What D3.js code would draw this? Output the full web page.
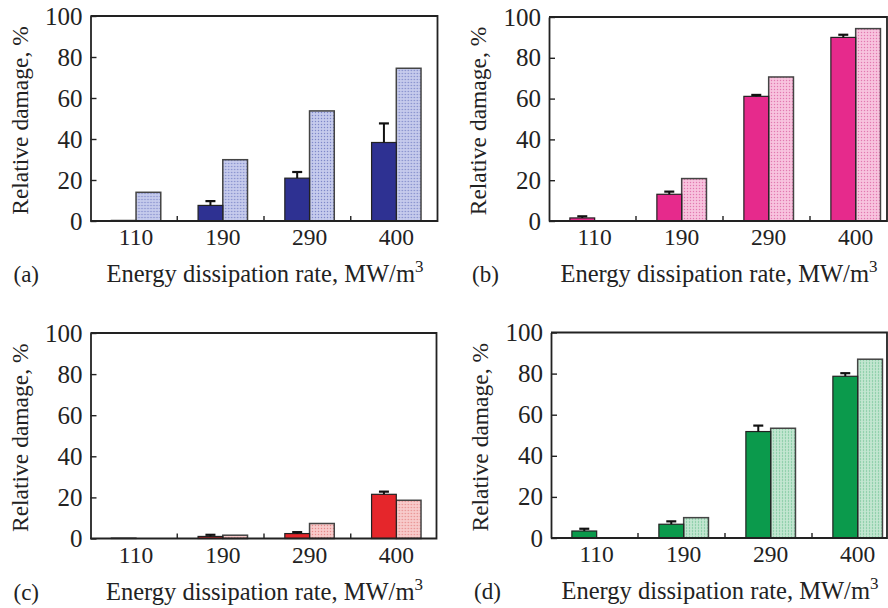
<!DOCTYPE html>
<html>
<head>
<meta charset="utf-8">
<script src="https://cdn.jsdelivr.net/npm/d3@7"></script>
<style>
  html, body { margin: 0; padding: 0; background: #fff; }
  svg { display: block; }
</style>
</head>
<body>
<div id="chart"></div>
<script>
const categories = ['110', '190', '290', '400'];
const yTicks = [0, 20, 40, 60, 80, 100];

// relative damage, % (solid bars with error, dotted bars)
const solidA = [0.3, 7.6, 20.9, 38.3];
const errorA = [0, 2.1, 3.0, 9.3];
const dottedA = [14.0, 29.9, 53.7, 74.5];

const solidB = [1.5, 13.1, 61.1, 90.0];
const errorB = [0.8, 1.3, 0.7, 1.3];
const dottedB = [0, 20.8, 70.6, 94.3];

const solidC = [0.2, 1.0, 2.4, 21.5];
const errorC = [0, 0.8, 0.7, 1.3];
const dottedC = [0, 1.6, 7.3, 18.6];

const solidD = [3.4, 6.7, 51.8, 78.7];
const errorD = [1.1, 1.4, 2.9, 1.5];
const dottedD = [0, 9.9, 53.4, 87.0];

const panels = [
  { label: '(a)', left: 90.5, top: 16, height: 205, width: 347, band: 347,
    solid: solidA, error: errorA, dotted: dottedA,
    fill: '#2e3192', light: '#bcc2e8', dot: '#7f88c8' },
  { label: '(b)', left: 549, top: 17, height: 204, width: 338, band: 348,
    solid: solidB, error: errorB, dotted: dottedB,
    fill: '#e62a8c', light: '#f6b9d8', dot: '#e07bb0' },
  { label: '(c)', left: 90.5, top: 333, height: 205.5, width: 346, band: 347,
    solid: solidC, error: errorC, dotted: dottedC,
    fill: '#e5262b', light: '#f6c2c2', dot: '#e48c8c' },
  { label: '(d)', left: 551, top: 332.5, height: 205.5, width: 336, band: 348,
    solid: solidD, error: errorD, dotted: dottedD,
    fill: '#0b9a4c', light: '#b8e2c9', dot: '#6cbf90' }
];

// pick the first Times-like face that is actually installed
function pickFont(list) {
  const ctx = document.createElement('canvas').getContext('2d');
  const probe = 'Energy dissipation rate 0123456789';
  ctx.font = '40px monospace';
  const base = ctx.measureText(probe).width;
  for (const f of list) {
    ctx.font = `40px "${f}", monospace`;
    if (Math.abs(ctx.measureText(probe).width - base) > 0.5) return `"${f}", serif`;
  }
  return 'serif';
}
const FONT = pickFont(['Liberation Serif', 'Times New Roman', 'Tinos', 'Nimbus Roman', 'Times', 'DejaVu Serif']);

const W = 888, H = 608;
const svg = d3.select('#chart').append('svg')
  .attr('width', W)
  .attr('height', H)
  .attr('viewBox', `0 0 ${W} ${H}`)
  .style('font-family', FONT);

const defs = svg.append('defs');

panels.forEach((p, i) => {
  // dotted texture for the light bars
  const pat = defs.append('pattern')
    .attr('id', 'dots' + i)
    .attr('width', 3)
    .attr('height', 3)
    .attr('patternUnits', 'userSpaceOnUse');
  pat.append('rect').attr('width', 3).attr('height', 3).attr('fill', p.light);
  pat.append('rect').attr('x', 0).attr('y', 0).attr('width', 1).attr('height', 1).attr('fill', p.dot);
  pat.append('rect').attr('x', 1.5).attr('y', 1.5).attr('width', 1).attr('height', 1).attr('fill', '#fff').attr('opacity', 0.6);

  const rows = categories.map((c, k) => ({
    cat: c, solid: p.solid[k], error: p.error[k], dotted: p.dotted[k]
  }));

  const x0 = d3.scaleBand().domain(categories).range([0, p.band]);
  const x1 = d3.scaleBand()
    .domain(['solid', 'dotted'])
    .range([x0.bandwidth() * 0.24, x0.bandwidth() * 0.81]);
  const y = d3.scaleLinear().domain([0, 100]).range([p.height, 0]);

  const g = svg.append('g')
    .attr('transform', `translate(${p.left},${p.top})`);

  // bars
  const grp = g.selectAll('.cat')
    .data(rows)
    .join('g')
    .attr('transform', d => `translate(${x0(d.cat)},0)`);

  grp.filter(d => d.dotted > 0).append('rect')
    .attr('x', x1('dotted'))
    .attr('y', d => y(d.dotted))
    .attr('width', x1.bandwidth())
    .attr('height', d => y(0) - y(d.dotted))
    .attr('fill', `url(#dots${i})`)
    .attr('stroke', '#444')
    .attr('stroke-width', 1.5);

  grp.filter(d => d.solid > 0).append('rect')
    .attr('x', x1('solid'))
    .attr('y', d => y(d.solid))
    .attr('width', x1.bandwidth())
    .attr('height', d => y(0) - y(d.solid))
    .attr('fill', p.fill)
    .attr('stroke', '#222')
    .attr('stroke-width', 1.2);

  // error bars
  const eb = grp.filter(d => d.error > 0);
  eb.append('line')
    .attr('x1', x1('solid') + x1.bandwidth() / 2)
    .attr('x2', x1('solid') + x1.bandwidth() / 2)
    .attr('y1', d => y(d.solid))
    .attr('y2', d => y(d.solid + d.error))
    .attr('stroke', '#111')
    .attr('stroke-width', 2);
  eb.append('line')
    .attr('x1', x1('solid') + x1.bandwidth() / 2 - 5)
    .attr('x2', x1('solid') + x1.bandwidth() / 2 + 5)
    .attr('y1', d => y(d.solid + d.error))
    .attr('y2', d => y(d.solid + d.error))
    .attr('stroke', '#111')
    .attr('stroke-width', 2.2);

  // y axis, ticks pointing inward
  const yAxis = g.append('g')
    .call(d3.axisLeft(y).tickValues(yTicks).tickSizeInner(-6).tickSizeOuter(0).tickPadding(8));
  yAxis.select('.domain').attr('stroke', '#222').attr('stroke-width', 1.8);
  yAxis.selectAll('.tick line').attr('stroke', '#222').attr('stroke-width', 1.4);
  yAxis.selectAll('.tick text')
    .attr('font-size', 25)
    .attr('fill', '#222')
    .attr('font-family', FONT);

  // frame: top, right and bottom lines
  g.append('path')
    .attr('d', d3.line()([[0, 0], [p.width, 0], [p.width, y(0)], [0, y(0)]]))
    .attr('fill', 'none')
    .attr('stroke', '#222')
    .attr('stroke-width', 1.8);

  // category separator ticks on the x axis
  g.selectAll('.sep')
    .data(categories.slice(1))
    .join('line')
    .attr('x1', d => x0(d))
    .attr('x2', d => x0(d))
    .attr('y1', y(0))
    .attr('y2', y(0) - 5)
    .attr('stroke', '#222')
    .attr('stroke-width', 1.4);

  // x tick labels, centred under each bar pair
  g.selectAll('.xlab')
    .data(categories)
    .join('text')
    .attr('x', d => x0(d) + x1('dotted'))
    .attr('y', y(0) + 24)
    .attr('text-anchor', 'middle')
    .attr('font-size', 23.5)
    .attr('fill', '#222')
    .text(d => d);

  // axis titles
  const xt = g.append('text')
    .attr('x', p.width / 2 + 1)
    .attr('y', y(0) + 61)
    .attr('text-anchor', 'middle')
    .attr('font-size', 24.5)
    .attr('fill', '#222');
  xt.append('tspan').text('Energy dissipation rate, MW/m');
  xt.append('tspan').attr('dy', -10).attr('font-size', 17).text('3');

  g.append('text')
    .attr('transform', `translate(-63,${p.height / 2 + 2}) rotate(-90)`)
    .attr('text-anchor', 'middle')
    .attr('font-size', 23.5)
    .attr('fill', '#222')
    .text('Relative damage, %');

  g.append('text')
    .attr('x', -77)
    .attr('y', y(0) + 61)
    .attr('font-size', 23)
    .attr('fill', '#222')
    .text(p.label);
});
</script>
</body>
</html>
